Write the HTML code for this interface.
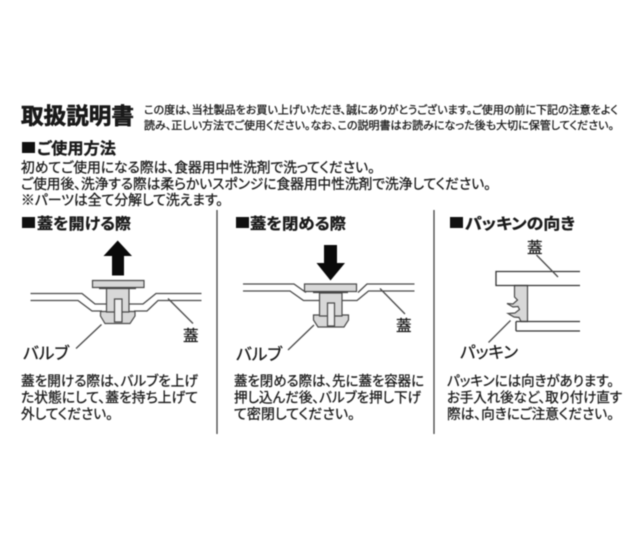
<!DOCTYPE html>
<html lang="ja"><head><meta charset="utf-8"><style>
html,body{margin:0;padding:0;background:#fff;width:640px;height:533px;overflow:hidden}
svg{display:block;filter:blur(.4px)}
text{font-family:"Liberation Sans","Noto Sans CJK JP",sans-serif;fill:#1a1a1a;font-feature-settings:"palt"}
.b{font-weight:700;stroke:#111;stroke-width:.3px}
.t{font-weight:700;stroke:#111;stroke-width:.6px}
.m{stroke:#1a1a1a;stroke-width:.3px}
.l{fill:none;stroke:#4a4a4a;stroke-width:1.3}
.d{fill:none;stroke:#333;stroke-width:1.3}
.p{fill:#d8d8d8;stroke:#4a4a4a;stroke-width:1.2}
</style></head><body>
<svg width="640" height="533" viewBox="0 0 640 533" xmlns="http://www.w3.org/2000/svg">
<text class="t" x="21" y="124" font-size="22.500" textLength="113" lengthAdjust="spacingAndGlyphs">取扱説明書</text>
<text class="m" x="144" y="113.500" font-size="11" textLength="474" lengthAdjust="spacingAndGlyphs">この度は、当社製品をお買い上げいただき、誠にありがとうございます。ご使用の前に下記の注意をよく</text>
<text class="m" x="144" y="129" font-size="11" textLength="470" lengthAdjust="spacingAndGlyphs">読み、正しい方法でご使用ください。なお、この説明書はお読みになった後も大切に保管してください。</text>

<rect x="22" y="142" width="13" height="11" fill="#111"/>
<text class="b" x="37" y="154" font-size="16" textLength="79" lengthAdjust="spacingAndGlyphs">ご使用方法</text>
<text class="m" x="21" y="172.500" font-size="14" textLength="354" lengthAdjust="spacingAndGlyphs">初めてご使用になる際は、食器用中性洗剤で洗ってください。</text>
<text class="m" x="21" y="189" font-size="14" textLength="470" lengthAdjust="spacingAndGlyphs">ご使用後、洗浄する際は柔らかいスポンジに食器用中性洗剤で洗浄してください。</text>
<text class="m" x="21" y="205" font-size="14" textLength="202" lengthAdjust="spacingAndGlyphs">※パーツは全て分解して洗えます。</text>

<path d="M217 210V434M434 210V434" stroke="#444" stroke-width="1.300" fill="none"/>

<rect x="22" y="217" width="13" height="11" fill="#111"/>
<text class="b" x="37" y="229" font-size="15.500" textLength="94" lengthAdjust="spacingAndGlyphs">蓋を開ける際</text>
<rect x="236" y="217" width="13" height="11" fill="#111"/>
<text class="b" x="250" y="229" font-size="15.500" textLength="96" lengthAdjust="spacingAndGlyphs">蓋を閉める際</text>
<rect x="450" y="217" width="13" height="11" fill="#111"/>
<text class="b" x="465" y="229" font-size="15.500" textLength="110" lengthAdjust="spacingAndGlyphs">パッキンの向き</text>

<!-- diagram 1 -->
<path fill="#0a0a0a" d="M117.700 240.500L132 256H124V275.500H112V256H103.500Z"/>
<path class="l" d="M30.500 293.500H82L95 304H107M129 304H143L156 293.500H201.500M30.500 300.500H78L92 311H102M134 311H147L158 300.500H201.500"/>
<path class="p" d="M100.500 311.500H135V316L130 323.500H105L100.500 316Z"/>
<path class="p" d="M106.500 288H129V312H106.500Z"/>
<path class="p" d="M114.500 299H122V322H114.500Z" style="fill:#eee"/>
<path class="p" d="M92.500 280.500H144V287.500H92.500Z"/>
<path d="M99 288.500H136" stroke="#444" stroke-width="1.300"/>
<path class="l" d="M168 298.500L193 323.500M101.500 324.500L76 348.500"/>
<text class="m" x="183" y="341" font-size="15.500">蓋</text>
<text class="m" x="23" y="359" font-size="16.500" textLength="46" lengthAdjust="spacingAndGlyphs">バルブ</text>

<!-- diagram 2 -->
<path fill="#0a0a0a" d="M324 245H337V263H345L330.500 280.500L316.500 263H324Z"/>
<path class="l" d="M243 284H294L306 292.500M358 292.500L367 284H414.500M243 291H290L303.500 300.500H319M342 300.500H357L368.500 291H414.500"/>
<path class="p" d="M313.500 315H348.500V320L344 327H318L313.500 320Z"/>
<path class="p" d="M319.500 293H342V316H319.500Z"/>
<path class="p" d="M327.500 303H334.500V326H327.500Z" style="fill:#eee"/>
<path class="p" d="M304.500 284H356.500V291.500H304.500Z"/>
<path d="M313 292.500H348" stroke="#444" stroke-width="1.300"/>
<path class="l" d="M380 288.500L405 314M314 325L288 350"/>
<text class="m" x="396" y="331" font-size="15.500">蓋</text>
<text class="m" x="236" y="360" font-size="16.500" textLength="46" lengthAdjust="spacingAndGlyphs">バルブ</text>

<!-- diagram 3 -->
<path fill="#d8d8d8" stroke="#4a4a4a" stroke-width="1.200" d="M514.500 285.500V297L517.500 300L513 304L507 303.500L513 307L518 306.500L519.500 309.500L515 313L508 313.500L514 317L519 317.500L521 321.500H527.500V285.500Z"/>
<path class="d" d="M516 271.500H580M516 285.500H580M516 271.500H496V285.500H516M516 321.500H580M516 331H580M516 321.500V331"/>
<path class="l" d="M536.500 255L558 277M510.500 320.500L488.500 342.500"/>
<text class="m" x="527" y="253" font-size="15.500">蓋</text>
<text class="m" x="460" y="358" font-size="16.500" textLength="58" lengthAdjust="spacingAndGlyphs">パッキン</text>

<!-- paragraphs -->
<text class="m" x="21" y="386" font-size="14" textLength="177" lengthAdjust="spacingAndGlyphs">蓋を開ける際は、バルブを上げ</text>
<text class="m" x="21" y="402.500" font-size="14" textLength="177" lengthAdjust="spacingAndGlyphs">た状態にして、蓋を持ち上げて</text>
<text class="m" x="21" y="419" font-size="14" textLength="92" lengthAdjust="spacingAndGlyphs">外してください。</text>
<text class="m" x="234" y="386" font-size="14" textLength="190" lengthAdjust="spacingAndGlyphs">蓋を閉める際は、先に蓋を容器に</text>
<text class="m" x="234" y="402.500" font-size="14" textLength="187" lengthAdjust="spacingAndGlyphs">押し込んだ後、バルブを押し下げ</text>
<text class="m" x="234" y="419" font-size="14" textLength="121" lengthAdjust="spacingAndGlyphs">て密閉してください。</text>
<text class="m" x="447" y="386" font-size="14" textLength="167" lengthAdjust="spacingAndGlyphs">パッキンには向きがあります。</text>
<text class="m" x="447" y="402.500" font-size="14" textLength="175" lengthAdjust="spacingAndGlyphs">お手入れ後など、取り付け直す</text>
<text class="m" x="447" y="419" font-size="14" textLength="167" lengthAdjust="spacingAndGlyphs">際は、向きにご注意ください。</text>
</svg>
</body></html>
